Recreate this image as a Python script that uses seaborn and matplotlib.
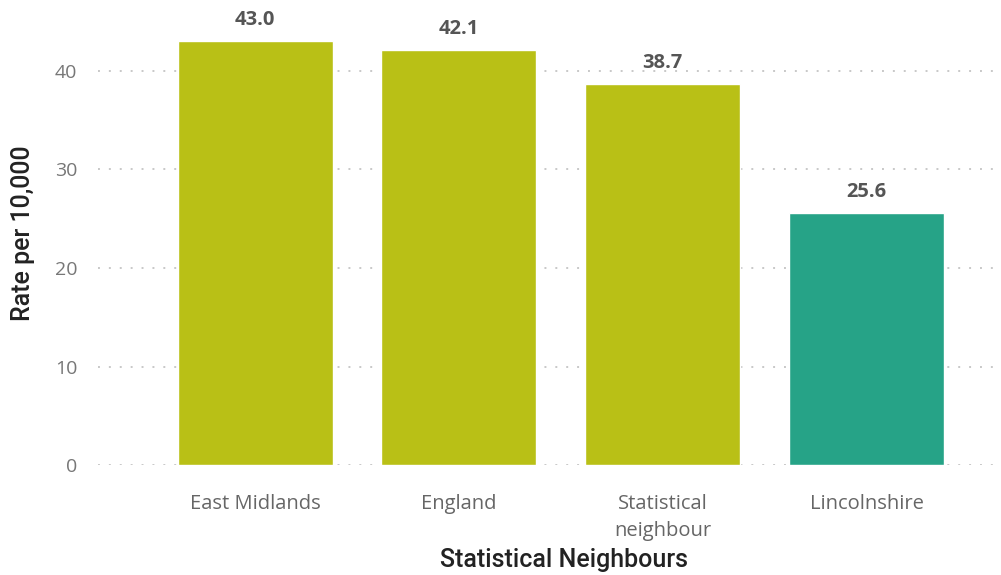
import matplotlib
matplotlib.use("Agg")
import matplotlib.pyplot as plt
import seaborn as sns
import pandas as pd

categories = ["East Midlands", "England", "Statistical\nneighbour", "Lincolnshire"]
values = [43.0, 42.1, 38.7, 25.6]
colors = ["#B9C016", "#B9C016", "#B9C016", "#26A387"]
yticks = [0, 10, 20, 30, 40]

sns.set_theme(style="white")
plt.rcParams["font.family"] = ["Open Sans", "DejaVu Sans"]

df = pd.DataFrame({"cat": categories, "val": values})

fig = plt.figure(figsize=(10.01, 5.75), dpi=100)
ax = fig.add_axes([0.098, 0.191, 0.896, 0.806])

sns.barplot(data=df, x="cat", y="val", hue="cat", palette=colors, legend=False,
            width=0.76, saturation=1, ax=ax, zorder=3)

ax.set_ylim(0, 47.0)
ax.set_xlim(-0.77, 3.63)
ax.set_yticks(yticks)
ax.set_yticklabels([str(v) for v in yticks])
ax.yaxis.grid(True, linestyle=(0, (1, 4.6)), color="#C8C8C8", linewidth=1.4, zorder=0)
ax.xaxis.grid(False)
for s in ax.spines.values():
    s.set_visible(False)
ax.tick_params(axis="y", length=0, pad=15, labelsize=14, labelcolor="#777777")
ax.tick_params(axis="x", length=0, pad=21, labelsize=14.5, labelcolor="#666666")
for lbl in ax.get_xticklabels():
    lbl.set_linespacing(1.45)

for i, v in enumerate(values):
    ax.text(i, v + 1.1, f"{v:.1f}", ha="center", va="bottom", fontsize=14.5,
            fontweight="bold", color="#555555")

ax.set_ylabel("Rate per 10,000", fontsize=18, color="#222222",
              family=["Roboto", "DejaVu Sans"], fontweight="medium", va="center")
ax.yaxis.set_label_coords(-0.084, 0.5)
ax.set_xlabel("Statistical Neighbours", fontsize=18, color="#222222",
              family=["Roboto", "DejaVu Sans"], fontweight="medium", va="center")
ax.xaxis.set_label_coords(0.52, -0.205)

fig.savefig("out.png", dpi=100)
